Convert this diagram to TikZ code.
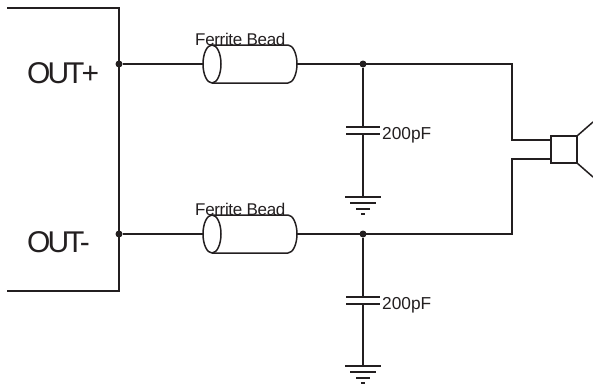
\documentclass[tikz,border=0pt]{standalone}
\usepackage{fontspec}
\setmainfont{Liberation Sans}
\newfontfamily\OutFont[LetterSpace=-10]{Liberation Sans}
\newfontfamily\BeadFont[LetterSpace=-2]{Liberation Sans}
\definecolor{Linie}{HTML}{231F20}
\tikzset{
  Leitung/.style={draw=Linie,line width=1.5pt}, % für Leitungen
  Punkt/.style={circle,fill=Linie,inner sep=0pt,minimum size=7pt},
  Anschluss/.style={anchor=base west,inner sep=0pt,text=Linie,font=\OutFont\fontsize{30}{30}\selectfont},
  PerleText/.style={anchor=base west,inner sep=0pt,text=Linie,font=\BeadFont\fontsize{17}{17}\selectfont},
  WertText/.style={anchor=base west,inner sep=0pt,text=Linie,font=\fontsize{17.3}{17.3}\selectfont},
  Perle/.pic={
    \coordinate (-west) at (-9,0);
    \coordinate (-east) at (85,0);
    \draw[Leitung] (0,0) ellipse [x radius=9,y radius=19];
    \draw[Leitung] (0,-19) -- (76,-19) .. controls (81,-19) and (85,-10) .. (85,0)
      .. controls (85,10) and (81,19) .. (76,19) -- (0,19);
  },
  Masse/.pic={
    \coordinate (-top) at (0,0);
    \draw[Leitung] (-18,0) -- (18,0);
    \draw[Leitung] (-13,6) -- (13,6);
    \draw[Leitung] (-7,12) -- (7,12);
    \draw[Leitung] (-2,17) -- (2,17);
  },
  Kondensator/.pic={
    \coordinate (-top) at (0,0);
    \coordinate (-bot) at (0,7);
    \draw[Leitung] (-17,0) -- (17,0);
    \draw[Leitung] (-17,7) -- (17,7);
  }
}
\begin{document}
\begin{tikzpicture}[x=1pt,y=-1pt]
\useasboundingbox (0,0) rectangle (593,383);
\clip (0,0) rectangle (593,383);

%Koordinaten
\coordinate (B1) at (7,8);
\coordinate (B2) at (119,8);
\coordinate (B3) at (119,291);
\coordinate (B4) at (7,291);
\coordinate (E1) at (512,64);
\coordinate (E2) at (512,140);
\coordinate (E3) at (512,159);
\coordinate (E4) at (512,234);
\coordinate (H1) at (593,122);
\coordinate (H2) at (593,177);

%Bauteile
\node[Punkt] (P1) at (119,64) {};
\node[Punkt] (P2) at (119,234) {};
\node[Punkt] (P3) at (363,64) {};
\node[Punkt] (P4) at (363,234) {};
\pic (FB1) at (212,64) {Perle};
\pic (FB2) at (212,234) {Perle};
\node[Leitung,rectangle,minimum width=26pt,minimum height=27pt,inner sep=0pt,outer sep=0pt] (LS) at (564,149.5) {};
\pic (C1) at (363,127) {Kondensator};
\pic (C2) at (363,297) {Kondensator};
\pic (G1) at (363,197) {Masse};
\pic (G2) at (363,366) {Masse};

%Beschriftung
\node[Anschluss] (OP) at (27,83) {OUT+};
\node[Anschluss] (OM) at (27,252) {OUT-};
\node[PerleText] (T1) at (195,45) {Ferrite Bead};
\node[PerleText] (T2) at (195,215) {Ferrite Bead};
\node[WertText] (W1) at (382,139) {200pF};
\node[WertText] (W2) at (382,309) {200pF};

%Leiterbahnen
\draw[Leitung] (B1) -- (B2) -- (B3) -- (B4);
\draw[Leitung] (P1) -- (FB1-west);
\draw[Leitung] (P2) -- (FB2-west);
\draw[Leitung] (FB1-east) -- (E1) -- (E2) -- (LS.west |- E2);
\draw[Leitung] (FB2-east) -- (E4) -- (E3) -- (LS.west |- E3);
\draw[Leitung] (P3) -- (C1-top);
\draw[Leitung] (P4) -- (C2-top);
\draw[Leitung] (C1-bot) -- (G1-top);
\draw[Leitung] (C2-bot) -- (G2-top);
\draw[Leitung] (LS.north east) -- (H1);
\draw[Leitung] (LS.south east) -- (H2);
\end{tikzpicture}
\end{document}
